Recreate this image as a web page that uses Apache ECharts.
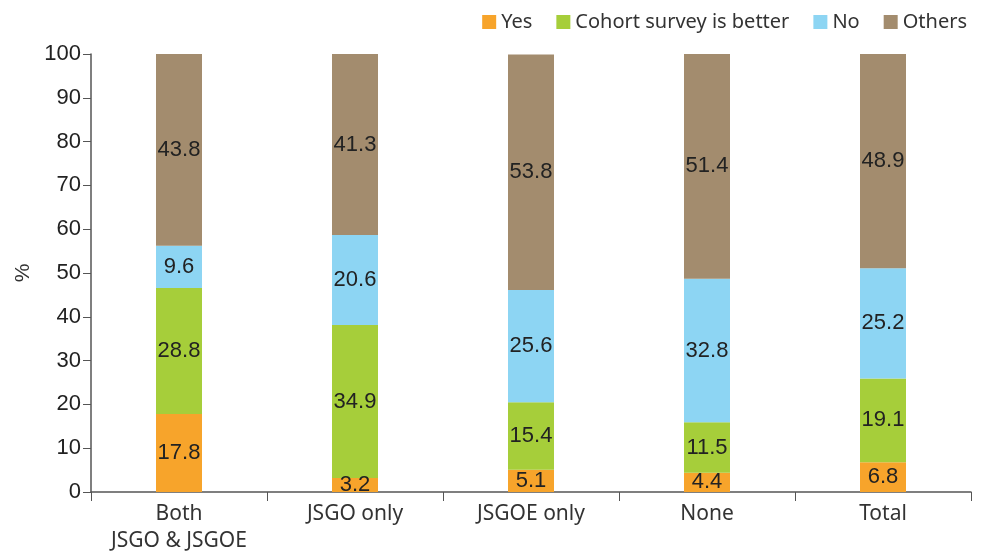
<!DOCTYPE html>
<html><head><meta charset="utf-8">
<script src="https://cdn.jsdelivr.net/npm/echarts@6/dist/echarts.min.js"></script>
<style>html,body{margin:0;padding:0;background:#fff}#c{width:987px;height:553px}</style>
</head><body><div id="c"></div>
<script>
const categories = ['Both\nJSGO & JSGOE', 'JSGO only', 'JSGOE only', 'None', 'Total'];
const seriesNames = ['Yes', 'Cohort survey is better', 'No', 'Others'];
const yesValues = [17.8, 3.2, 5.1, 4.4, 6.8];
const cohortValues = [28.8, 34.9, 15.4, 11.5, 19.1];
const noValues = [9.6, 20.6, 25.6, 32.8, 25.2];
const othersValues = [43.8, 41.3, 53.8, 51.4, 48.9];
const colors = ['#F7A42B', '#A6CE3A', '#8DD5F3', '#A38C6E'];

const allValues = [yesValues, cohortValues, noValues, othersValues];
const chart = echarts.init(document.getElementById('c'));
chart.setOption({
  animation: false,
  legend: {
    top: 7, right: 15, itemWidth: 14, itemHeight: 14, itemGap: 24,
    icon: 'rect',
    textStyle: {fontFamily: 'Noto Sans', fontSize: 20, color: '#333'},
    data: seriesNames
  },
  grid: {left: 91, right: 16, top: 54, bottom: 61, containLabel: false, outerBoundsMode: 'none'},
  xAxis: {
    type: 'category', data: categories,
    axisLine: {lineStyle: {color: '#555', width: 1.5}},
    axisTick: {show: true, length: 9, alignWithLabel: false, lineStyle: {color: '#555'}},
    axisLabel: {interval: 0, hideOverlap: false, fontFamily: 'Noto Sans', fontSize: 21, color: '#333', margin: 9, lineHeight: 27}
  },
  yAxis: {
    type: 'value', min: 0, max: 100, interval: 10,
    name: '%', nameLocation: 'middle', nameGap: 56, nameRotate: 90,
    nameTextStyle: {fontFamily: 'Liberation Sans', fontSize: 21, color: '#333'},
    axisLine: {show: true, lineStyle: {color: '#555', width: 1.5}},
    axisTick: {show: true, length: 8, lineStyle: {color: '#555'}},
    splitLine: {show: false},
    axisLabel: {fontFamily: 'Liberation Sans', fontSize: 22, color: '#222', margin: 10}
  },
  series: seriesNames.map((n, i) => ({
    name: n, type: 'bar', stack: 'a', barWidth: 46,
    data: allValues[i],
    itemStyle: {color: colors[i]},
    label: {show: true, position: 'inside', fontFamily: 'Liberation Sans', fontSize: 22, color: '#222',
      formatter: p => p.value.toFixed(1)}
  }))
});
</script></body></html>
